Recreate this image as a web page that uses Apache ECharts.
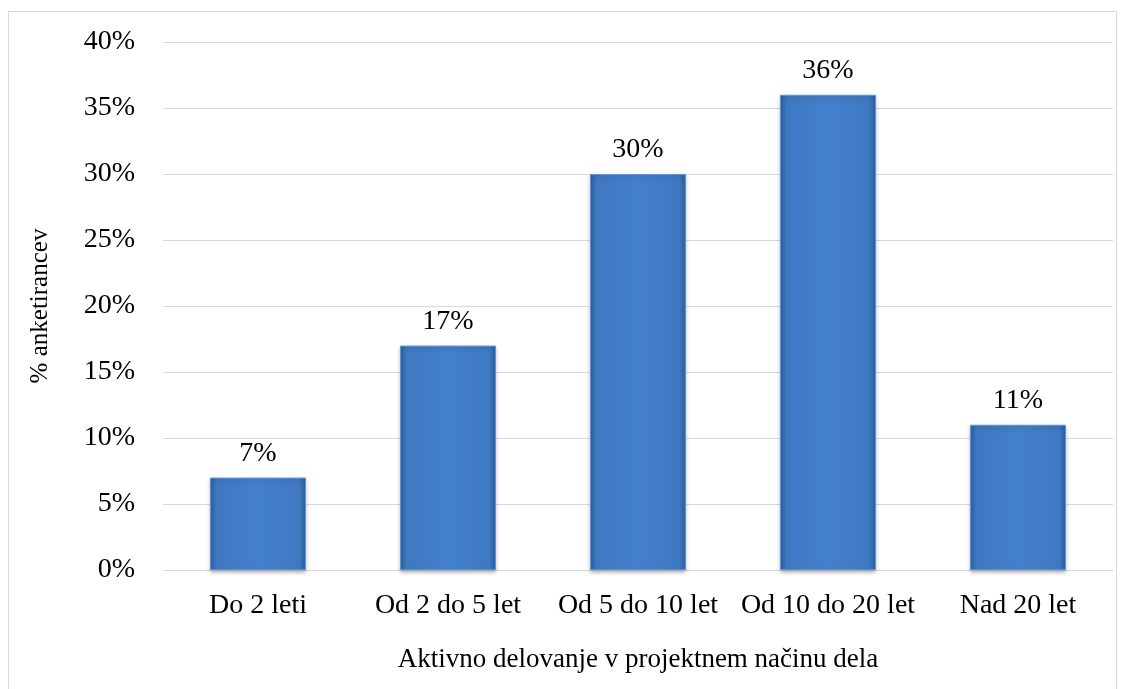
<!DOCTYPE html>
<html>
<head>
<meta charset="utf-8">
<script src="https://cdn.jsdelivr.net/npm/echarts@6/dist/echarts.min.js"></script>
<style>
    html, body { margin: 0; padding: 0; background: #fff; }
    #frame {
        position: absolute; left: 8px; top: 11px; width: 1109px; height: 690px;
        border: 1px solid #d9d9d9; box-sizing: border-box;
    }
    #main { position: absolute; left: 0; top: 0; width: 1133px; height: 689px; }
</style>
</head>
<body>
<div id="frame"></div>
<div id="main"></div>
<script>
// kategorije in vrednosti (%)
var categories = ['Do 2 leti', 'Od 2 do 5 let', 'Od 5 do 10 let', 'Od 10 do 20 let', 'Nad 20 let'];
var values = [7, 17, 30, 36, 11];
var yTicks = [0, 5, 10, 15, 20, 25, 30, 35, 40];

var serif = '"Liberation Serif", "DejaVu Serif", serif';
var myChart = echarts.init(document.getElementById('main'));

// stolpci z "bevel" videzom: temnejsi robovi
var barColor = new echarts.graphic.LinearGradient(0, 0, 1, 0, [
    {offset: 0, color: '#2f5f9f'},
    {offset: 0.07, color: '#3f79c2'},
    {offset: 0.5, color: '#4380cc'},
    {offset: 0.93, color: '#3f79c2'},
    {offset: 1, color: '#2f5f9f'}
]);

var option = {
    animation: false,
    grid: {
        left: 163,
        right: 20,
        top: 42,
        bottom: 119
    },
    xAxis: {
        type: 'category',
        data: categories,
        name: 'Aktivno delovanje v projektnem načinu dela',
        nameLocation: 'middle',
        nameGap: 76,
        nameTextStyle: {fontFamily: serif, fontSize: 27, color: '#000'},
        axisTick: {show: false},
        axisLine: {lineStyle: {color: '#d9d9d9', width: 1}},
        axisLabel: {fontFamily: serif, fontSize: 28, color: '#000', margin: 22, interval: 0}
    },
    yAxis: {
        type: 'value',
        min: yTicks[0],
        max: yTicks[yTicks.length - 1],
        interval: 5,
        name: '% anketirancev',
        nameLocation: 'middle',
        nameGap: 110,
        nameTextStyle: {fontFamily: serif, fontSize: 25, color: '#000'},
        axisLine: {show: false},
        axisTick: {show: false},
        axisLabel: {
            fontFamily: serif, fontSize: 28, color: '#000', margin: 28,
            formatter: function (v) { return v + '%'; }
        },
        splitLine: {lineStyle: {color: '#d9d9d9', width: 1}}
    },
    series: [{
        type: 'bar',
        data: values,
        barWidth: '50.5%',
        itemStyle: {
            color: barColor,
            borderColor: '#5b95dc',
            borderWidth: 1,
            shadowColor: 'rgba(0,0,0,0.3)',
            shadowBlur: 4,
            shadowOffsetY: 2
        },
        label: {
            show: true,
            position: 'top',
            distance: 10,
            fontFamily: serif,
            fontSize: 28,
            color: '#000',
            formatter: function (p) { return p.value + '%'; }
        }
    }]
};
myChart.setOption(option);
</script>
</body>
</html>
